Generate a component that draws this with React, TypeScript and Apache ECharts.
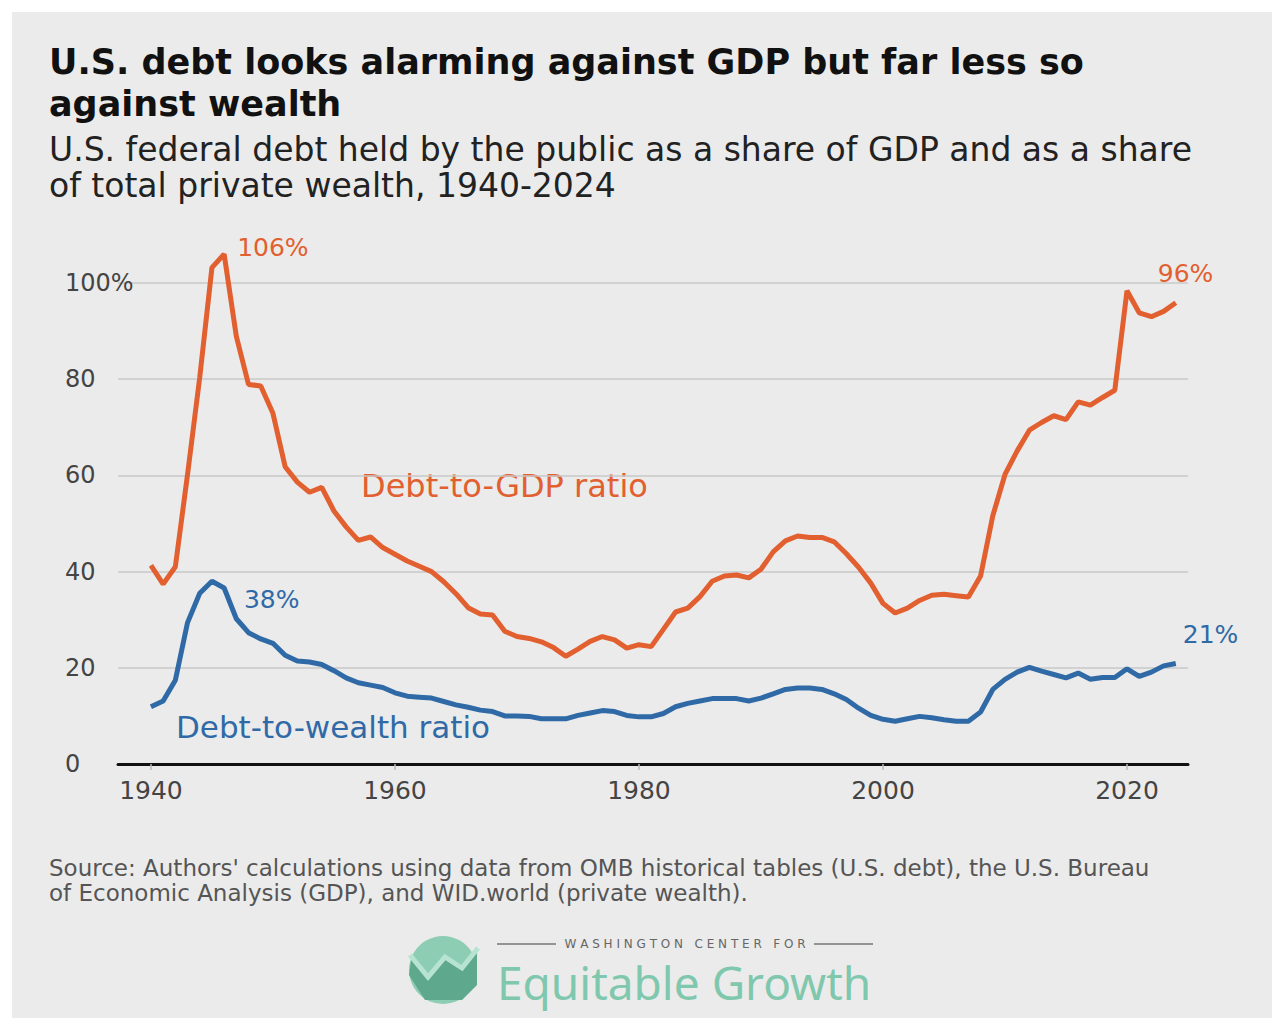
import { useEffect, useRef } from 'react';
import * as echarts from 'echarts';

const years = Array.from({ length: 85 }, (_, i) => 1940 + i);

const debtToGdp = [
  41.3, 37.4, 41, 60.2, 80.4, 103.2, 106, 88.9, 78.9, 78.6,
  72.9, 61.8, 58.6, 56.5, 57.5, 52.6, 49.3, 46.5, 47.2, 45,
  43.6, 42.2, 41.1, 40, 37.9, 35.4, 32.5, 31.2, 31, 27.6,
  26.5, 26.1, 25.4, 24.2, 22.4, 23.9, 25.5, 26.5, 25.8, 24.1,
  24.8, 24.4, 28, 31.6, 32.4, 34.8, 38, 39.1, 39.3, 38.7,
  40.5, 44.1, 46.4, 47.4, 47.1, 47.1, 46.2, 43.7, 40.9, 37.6,
  33.4, 31.4, 32.4, 34, 35.1, 35.3, 35, 34.7, 39.1, 51.6,
  60.2, 65.1, 69.4, 71, 72.4, 71.6, 75.3, 74.6, 76.2, 77.7,
  98.4, 93.8, 93, 94.1, 95.9,
];

const debtToWealth = [
  11.9, 13.1, 17.4, 29.4, 35.5, 38, 36.6, 30.2, 27.3, 26,
  25.1, 22.6, 21.4, 21.2, 20.7, 19.4, 17.9, 16.9, 16.4, 15.9,
  14.8, 14.1, 13.9, 13.7, 13, 12.3, 11.8, 11.2, 10.9, 10,
  10, 9.9, 9.4, 9.4, 9.4, 10.1, 10.6, 11.1, 10.9, 10.1,
  9.8, 9.8, 10.5, 11.9, 12.6, 13.1, 13.6, 13.6, 13.6, 13.1,
  13.7, 14.6, 15.5, 15.8, 15.8, 15.5, 14.6, 13.4, 11.6, 10.1,
  9.3, 8.9, 9.4, 9.9, 9.6, 9.2, 8.9, 8.9, 10.8, 15.5,
  17.6, 19.1, 20.1, 19.3, 18.6, 17.9, 18.9, 17.6, 18, 18,
  19.8, 18.2, 19.1, 20.4, 20.9,
];

const xTicks = [1940, 1960, 1980, 2000, 2020];

// year -> [label, dx, dy] (label top-left relative to the point)
const gdpCallouts: Record<number, [string, number, number]> = {
  1946: ['106%', 13, -19],
  2024: ['96%', -18, -42],
};
const wealthCallouts: Record<number, [string, number, number]> = {
  1945: ['38%', 32, 6],
  2024: ['21%', 7, -41],
};

const ORANGE = '#e25f2f';
const BLUE = '#2f6aa7';
const FONT = 'DejaVu Sans';

const toData = (values: number[], callouts: Record<number, [string, number, number]>, color: string) =>
  years.map((y, i) => {
    const c = callouts[y];
    if (!c) return [y, values[i]];
    return {
      value: [y, values[i]],
      label: { show: true, position: [c[1], c[2]], formatter: c[0], color, fontSize: 25, fontFamily: FONT },
    };
  });

export default function App() {
  const ref = useRef<HTMLDivElement>(null);

  useEffect(() => {
    document.body.style.margin = '0';
    if (!ref.current) return;
    const chart = echarts.init(ref.current, undefined, { renderer: 'svg' });

    const lineBase = {
      type: 'line',
      symbol: 'circle',
      symbolSize: 0.01,
      showSymbol: true,
      showAllSymbol: true,
      clip: false,
      label: { show: false },
    };

    chart.setOption({
      animation: false,
      backgroundColor: '#ffffff',
      textStyle: { fontFamily: FONT },
      grid: { left: 118, right: 96, top: 283, bottom: 266 },
      xAxis: {
        type: 'value',
        min: 1937.3,
        max: 2025,
        axisLine: { show: true, onZero: false, lineStyle: { color: '#111', width: 3 } },
        axisTick: { show: true, customValues: xTicks, length: 6, lineStyle: { color: '#bbb', width: 1.5 } },
        axisLabel: { customValues: xTicks, color: '#444', fontSize: 25, margin: 14, formatter: (v: number) => `${v}` },
        splitLine: { show: false },
      },
      yAxis: {
        type: 'value',
        min: 0,
        max: 100,
        interval: 20,
        axisLine: { show: false },
        axisTick: { show: false },
        axisLabel: {
          color: '#444',
          fontSize: 24,
          align: 'left',
          margin: 53,
          formatter: (v: number) => (v === 100 ? '100%' : `${v}`),
        },
        splitLine: { show: true, lineStyle: { color: '#c8c8c8', width: 1.5 } },
      },
      series: [
        {
          ...lineBase,
          name: 'Debt-to-GDP ratio',
          itemStyle: { color: ORANGE },
          lineStyle: { color: ORANGE, width: 5 },
          data: toData(debtToGdp, gdpCallouts, ORANGE),
        },
        {
          ...lineBase,
          name: 'Debt-to-wealth ratio',
          itemStyle: { color: BLUE },
          lineStyle: { color: BLUE, width: 5 },
          data: toData(debtToWealth, wealthCallouts, BLUE),
        },
      ],
      graphic: [
        { type: 'rect', z: -10, shape: { x: 12, y: 12, width: 1260, height: 1006 }, style: { fill: '#ebebeb' } },
        { type: 'text', left: 49, top: 41, style: { text: 'U.S. debt looks alarming against GDP but far less so\nagainst wealth', font: `bold 35px "${FONT}"`, fill: '#111', lineHeight: 42 } },
        { type: 'text', left: 49, top: 131, style: { text: 'U.S. federal debt held by the public as a share of GDP and as a share\nof total private wealth, 1940-2024', font: `33px "${FONT}"`, fill: '#222', lineHeight: 36 } },
        { type: 'text', left: 361, top: 470, style: { text: 'Debt-to-GDP ratio', font: `32px "${FONT}"`, fill: ORANGE } },
        { type: 'text', left: 176, top: 711, style: { text: 'Debt-to-wealth ratio', font: `31px "${FONT}"`, fill: BLUE } },
        { type: 'text', left: 49, top: 855, style: { text: "Source: Authors' calculations using data from OMB historical tables (U.S. debt), the U.S. Bureau\nof Economic Analysis (GDP), and WID.world (private wealth).", font: `23px "${FONT}"`, fill: '#555', lineHeight: 25 } },
        // logo
        { type: 'circle', shape: { cx: 443, cy: 970, r: 34 }, style: { fill: '#8ccdb4' } },
        { type: 'polygon', shape: { points: [[412, 955], [428, 975], [445, 955], [462, 965], [477, 950], [477, 985], [462, 1000], [425, 1000], [409, 975]] }, style: { fill: '#5ea88d' } },
        { type: 'polyline', shape: { points: [[410, 955], [428, 977], [445, 957], [462, 968], [478, 948]] }, style: { stroke: '#b7e3d2', lineWidth: 5, fill: 'none' } },
        { type: 'line', shape: { x1: 497, y1: 944, x2: 556, y2: 944 }, style: { stroke: '#777', lineWidth: 1.5 } },
        { type: 'line', shape: { x1: 814, y1: 944, x2: 873, y2: 944 }, style: { stroke: '#777', lineWidth: 1.5 } },
        { type: 'text', x: 685, y: 944, style: { text: 'W A S H I N G T O N   C E N T E R   F O R', font: `12px "${FONT}"`, fill: '#666', align: 'center', verticalAlign: 'middle' } },
        { type: 'text', x: 497, y: 982, style: { text: 'Equitable Growth', font: `46px "Noto Sans"`, fill: '#7fc8ae', verticalAlign: 'middle' } },
      ],
    });

    return () => chart.dispose();
  }, []);

  return <div ref={ref} style={{ width: 1284, height: 1030 }} />;
}
